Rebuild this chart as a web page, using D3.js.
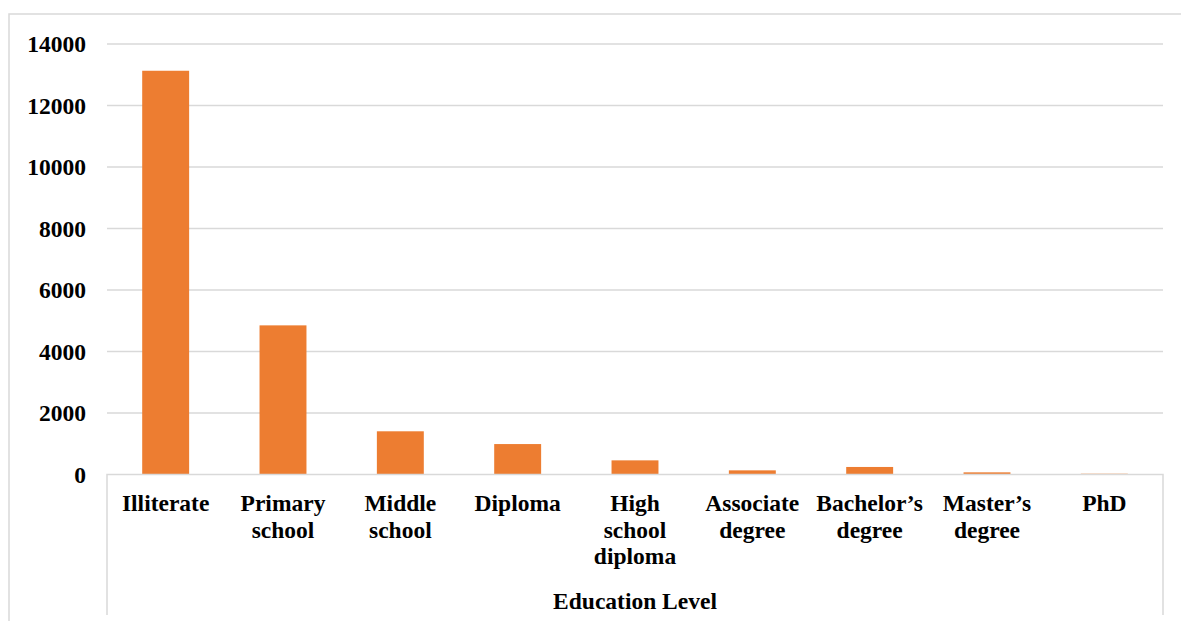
<!DOCTYPE html>
<html>
<head>
<meta charset="utf-8">
<script src="https://cdn.jsdelivr.net/npm/d3@7"></script>
<style>
  body { margin: 0; background: #fff; }
  text { font-family: "Liberation Serif", "Times New Roman", serif; font-weight: bold; fill: #000; }
</style>
</head>
<body>
<svg id="chart" width="1181" height="621"></svg>
<script>
// data
var categories = ["Illiterate", "Primary school", "Middle school", "Diploma", "High school diploma",
                  "Associate degree", "Bachelor\u2019s degree", "Master\u2019s degree", "PhD"];
var counts = [13130, 4850, 1405, 990, 460, 135, 245, 70, 25];
var yTicks = [0, 2000, 4000, 6000, 8000, 10000, 12000, 14000];
var axisTitle = "Education Level";

var svg = d3.select("#chart");
var plotLeft = 107, plotRight = 1163, plotTop = 44, plotBottom = 474.5;
var grey = "#d9d9d9";
var fontSize = 23.5;

// outer chart frame
svg.append("rect")
    .attr("x", 9).attr("y", 14)
    .attr("width", 1200).attr("height", 700)
    .attr("fill", "none").attr("stroke", grey).attr("stroke-width", 1.5);

var x = d3.scaleBand().domain(categories).range([plotLeft, plotRight]).paddingInner(0.6).paddingOuter(0.3);
var y = d3.scaleLinear().domain([0, 14000]).range([plotBottom, plotTop]);

// gridlines
svg.append("g")
    .selectAll("line")
    .data(yTicks.filter(d => d > 0))
    .join("line")
    .attr("x1", plotLeft).attr("x2", plotRight)
    .attr("y1", d => y(d)).attr("y2", d => y(d))
    .attr("stroke", grey).attr("stroke-width", 1.5);

// y tick labels
svg.append("g")
    .selectAll("text")
    .data(yTicks)
    .join("text")
    .attr("x", 86)
    .attr("y", d => y(d) + 8)
    .attr("text-anchor", "end")
    .attr("font-size", fontSize)
    .text(d => d);

// bars
svg.append("g")
    .selectAll("rect")
    .data(categories)
    .join("rect")
    .attr("x", d => x(d))
    .attr("width", x.bandwidth())
    .attr("y", (d, i) => y(counts[i]))
    .attr("height", (d, i) => y(0) - y(counts[i]))
    .attr("fill", "#ED7D31");

// category axis box
svg.append("path")
    .attr("d", `M${plotLeft},615V${y(0)}H${plotRight}V615`)
    .attr("fill", "none").attr("stroke", grey).attr("stroke-width", 1.5);

// category labels, wrapped word by word
var labels = svg.append("g")
    .selectAll("text")
    .data(categories)
    .join("text")
    .attr("x", d => x(d) + x.bandwidth() / 2)
    .attr("y", 511)
    .attr("text-anchor", "middle")
    .attr("font-size", fontSize);

labels.each(function (d) {
    var t = d3.select(this), words = d.split(" "), line = [];
    var cx = x(d) + x.bandwidth() / 2;
    var tspan = t.append("tspan").attr("x", cx).attr("dy", 0);
    words.forEach(function (w) {
        line.push(w);
        tspan.text(line.join(" "));
        if (line.length > 1 && tspan.node().getComputedTextLength() > 112) {
            line.pop();
            tspan.text(line.join(" "));
            line = [w];
            tspan = t.append("tspan").attr("x", cx).attr("dy", 26.5).text(w);
        }
    });
});

svg.append("text")
    .attr("x", (plotLeft + plotRight) / 2)
    .attr("y", 609)
    .attr("text-anchor", "middle")
    .attr("font-size", fontSize)
    .text(axisTitle);
</script>
</body>
</html>
